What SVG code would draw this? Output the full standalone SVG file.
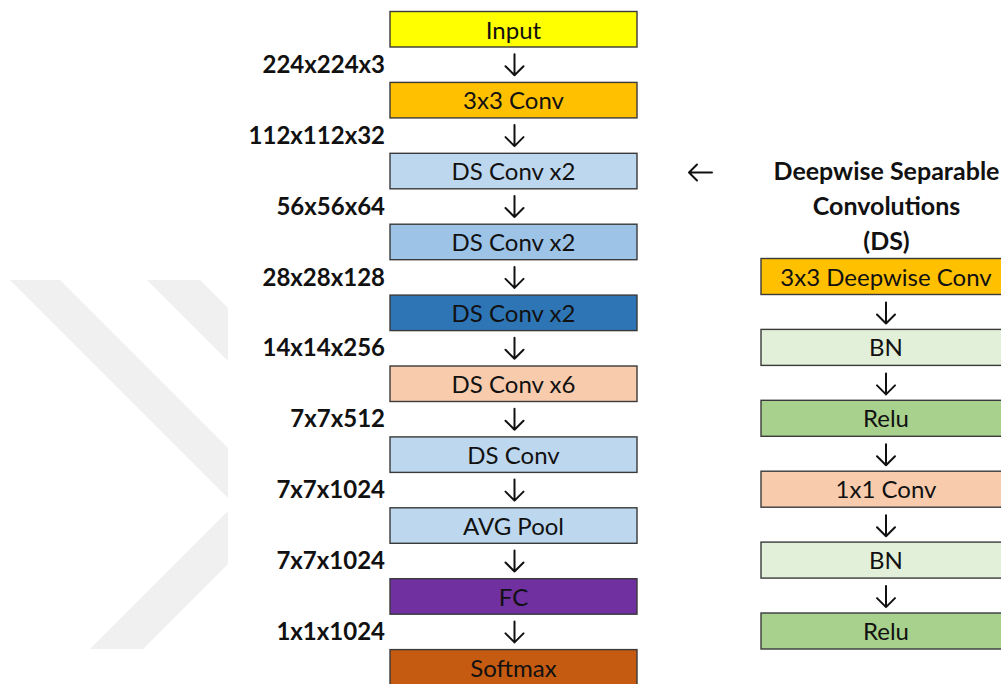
<svg xmlns="http://www.w3.org/2000/svg" width="1001" height="684" viewBox="0 0 1001 684">
  <style>
    .box { stroke: #3a3a3a; stroke-width: 1.4; }
    .lbl { font-family: Lato, "Liberation Sans", sans-serif; font-size: 24px; fill: #111; text-anchor: middle; }
    .dim { font-family: Lato, "Liberation Sans", sans-serif; font-size: 24px; font-weight: bold; fill: #111; text-anchor: end; }
    .head { font-family: Lato, "Liberation Sans", sans-serif; font-size: 25px; font-weight: bold; fill: #111; text-anchor: middle; }
    .arr { fill: none; stroke: #111; stroke-width: 2; stroke-linecap: round; stroke-linejoin: round; }
  </style>

  <rect width="1001" height="684" fill="#ffffff"/>

  <!-- faint chevron mark in the background -->
  <g id="backdrop" fill="#f0f0f0">
    <polygon points="10,280 60,280 228,448 228,498"/>
    <polygon points="147,280 200,280 228,308 228,361"/>
    <polygon points="90,649 143,649 228,564 228,511"/>
  </g>

  <!-- main network column -->
  <g id="n-input"><rect class="box" x="390" y="11.5" width="247" height="35.5" fill="#FFFF00"/><text class="lbl" x="513.5" y="38.5">Input</text></g>
  <g id="n-conv3"><rect class="box" x="390" y="82.4" width="247" height="35.5" fill="#FFC000"/><text class="lbl" x="513.5" y="109.4">3x3 Conv</text></g>
  <g id="n-ds1"><rect class="box" x="390" y="153.3" width="247" height="35.5" fill="#BDD7EE"/><text class="lbl" x="513.5" y="180.3">DS Conv x2</text></g>
  <g id="n-ds2"><rect class="box" x="390" y="224.2" width="247" height="35.5" fill="#9DC3E6"/><text class="lbl" x="513.5" y="251.2">DS Conv x2</text></g>
  <g id="n-ds3"><rect class="box" x="390" y="295.1" width="247" height="35.5" fill="#2E75B6"/><text class="lbl" x="513.5" y="322.1">DS Conv x2</text></g>
  <g id="n-ds6"><rect class="box" x="390" y="366" width="247" height="35.5" fill="#F8CBAD"/><text class="lbl" x="513.5" y="393">DS Conv x6</text></g>
  <g id="n-ds"><rect class="box" x="390" y="436.9" width="247" height="35.5" fill="#BDD7EE"/><text class="lbl" x="513.5" y="463.9">DS Conv</text></g>
  <g id="n-pool"><rect class="box" x="390" y="507.8" width="247" height="35.5" fill="#BDD7EE"/><text class="lbl" x="513.5" y="534.8">AVG Pool</text></g>
  <g id="n-fc"><rect class="box" x="390" y="578.7" width="247" height="35.5" fill="#7030A0"/><text class="lbl" x="513.5" y="605.7">FC</text></g>
  <g id="n-softmax"><rect class="box" x="390" y="649.6" width="247" height="40" fill="#C55A11"/><text class="lbl" x="513.5" y="676.6">Softmax</text></g>

  <!-- tensor sizes between layers -->
  <g id="sizes">
    <text class="dim" x="385" y="72.8">224x224x3</text>
    <text class="dim" x="385" y="143.7">112x112x32</text>
    <text class="dim" x="385" y="214.6">56x56x64</text>
    <text class="dim" x="385" y="285.5">28x28x128</text>
    <text class="dim" x="385" y="356.4">14x14x256</text>
    <text class="dim" x="385" y="427.3">7x7x512</text>
    <text class="dim" x="385" y="498.2">7x7x1024</text>
    <text class="dim" x="385" y="569.1">7x7x1024</text>
    <text class="dim" x="385" y="640">1x1x1024</text>
  </g>

  <!-- depthwise separable block detail -->
  <g id="ds-title">
    <text class="head" x="886.5" y="180">Deepwise Separable</text>
    <text class="head" x="886.5" y="215">Convolutions</text>
    <text class="head" x="886.5" y="250">(DS)</text>
  </g>
  <g id="d-dw"><rect class="box" x="761" y="258.5" width="260" height="36" fill="#FFC000"/><text class="lbl" x="886" y="285.5">3x3 Deepwise Conv</text></g>
  <g id="d-bn1"><rect class="box" x="761" y="329.4" width="260" height="36" fill="#E2F0D9"/><text class="lbl" x="886" y="356.4">BN</text></g>
  <g id="d-relu1"><rect class="box" x="761" y="400.3" width="260" height="36" fill="#A9D18E"/><text class="lbl" x="886" y="427.3">Relu</text></g>
  <g id="d-pw"><rect class="box" x="761" y="471.2" width="260" height="36" fill="#F8CBAD"/><text class="lbl" x="886" y="498.2">1x1 Conv</text></g>
  <g id="d-bn2"><rect class="box" x="761" y="542.1" width="260" height="36" fill="#E2F0D9"/><text class="lbl" x="886" y="569.1">BN</text></g>
  <g id="d-relu2"><rect class="box" x="761" y="613" width="260" height="36" fill="#A9D18E"/><text class="lbl" x="886" y="640">Relu</text></g>

  <!-- connectors -->
  <g id="connectors" class="arr">
    <path d="M514.5,54.2 V75.2 M505.5,66.2 L514.5,75.2 L523.5,66.2"/>
    <path d="M514.5,125.1 V146.1 M505.5,137.1 L514.5,146.1 L523.5,137.1"/>
    <path d="M514.5,196 V217 M505.5,208 L514.5,217 L523.5,208"/>
    <path d="M514.5,266.9 V287.9 M505.5,278.9 L514.5,287.9 L523.5,278.9"/>
    <path d="M514.5,337.8 V358.8 M505.5,349.8 L514.5,358.8 L523.5,349.8"/>
    <path d="M514.5,408.7 V429.7 M505.5,420.7 L514.5,429.7 L523.5,420.7"/>
    <path d="M514.5,479.6 V500.6 M505.5,491.6 L514.5,500.6 L523.5,491.6"/>
    <path d="M514.5,550.5 V571.5 M505.5,562.5 L514.5,571.5 L523.5,562.5"/>
    <path d="M514.5,621.4 V642.4 M505.5,633.4 L514.5,642.4 L523.5,633.4"/>

    <path d="M886,302.5 V323.5 M877,314.5 L886,323.5 L895,314.5"/>
    <path d="M886,373.4 V394.4 M877,385.4 L886,394.4 L895,385.4"/>
    <path d="M886,444.3 V465.3 M877,456.3 L886,465.3 L895,456.3"/>
    <path d="M886,515.2 V536.2 M877,527.2 L886,536.2 L895,527.2"/>
    <path d="M886,586.1 V607.1 M877,598.1 L886,607.1 L895,598.1"/>

    <path d="M712,172.5 H689 M697,164.5 L689,172.5 L697,180.5"/>
  </g>
</svg>
